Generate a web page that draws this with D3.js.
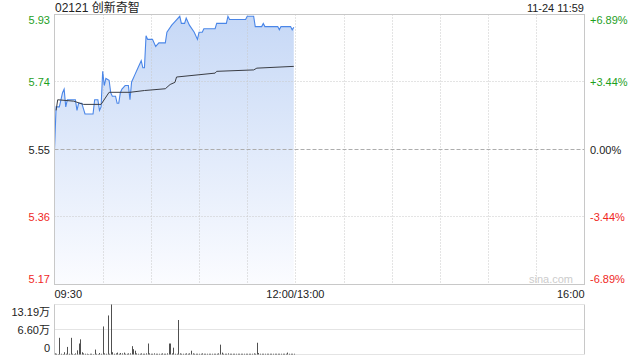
<!DOCTYPE html>
<html lang="zh">

<head>
    <meta charset="UTF-8">
    <title>02121 创新奇智</title>
    <script src="https://d3js.org/d3.v7.min.js"></script>
    <style>
        body {
            margin: 0;
            background: #fff;
            font-family: 'Liberation Sans', Arial, 'Noto Sans CJK SC', sans-serif;
        }

        svg text {
            font-size: 11px;
        }
    </style>
</head>

<body>
    <svg width="640" height="360"></svg>

    <script>
        // chart values
        const stockTitle = "02121 创新奇智";
        const stamp = "11-24 11:59";
        const prevClose = 5.55;

        const priceTicks = [5.93, 5.74, 5.55, 5.36, 5.17];
        const pctLabels = ["+6.89%", "+3.44%", "0.00%", "-3.44%", "-6.89%"];
        const timeLabels = ["09:30", "12:00/13:00", "16:00"];
        const volTicks = [13.19, 6.60, 0];
        const volLabels = ["13.19万", "6.60万", "0"];

        const priceTimes = ["09:30", "09:31", "09:33", "09:34", "09:35", "09:36", "09:37", "09:38", "09:43", "09:44",
            "09:45", "09:47", "09:48", "09:49", "09:54", "09:55", "09:57", "09:58", "09:59", "10:00",
            "10:01", "10:02", "10:04", "10:05", "10:06", "10:08", "10:09", "10:10", "10:11", "10:12",
            "10:14", "10:16", "10:17", "10:18", "10:19", "10:20", "10:22", "10:24", "10:25", "10:26",
            "10:27", "10:28", "10:31", "10:33", "10:35", "10:39", "10:40", "10:43", "10:45", "10:48",
            "10:49", "10:51", "10:52", "10:54", "10:57", "10:59", "11:00", "11:02", "11:03", "11:10",
            "11:11", "11:17", "11:18", "11:19", "11:29", "11:30", "11:34", "11:35", "11:39", "11:40",
            "11:41", "11:49", "11:50", "11:51", "11:57", "11:58", "11:59"];
        const prices = [5.55, 5.67, 5.67, 5.69, 5.71, 5.72, 5.67, 5.69, 5.69, 5.66,
            5.68, 5.68, 5.665, 5.65, 5.65, 5.69, 5.69, 5.66, 5.67, 5.77,
            5.73, 5.75, 5.745, 5.71, 5.70, 5.70, 5.68, 5.68, 5.71, 5.72,
            5.73, 5.73, 5.69, 5.74, 5.75, 5.76, 5.78, 5.80, 5.78, 5.78,
            5.87, 5.86, 5.86, 5.84, 5.85, 5.85, 5.88, 5.90, 5.91, 5.925,
            5.905, 5.905, 5.92, 5.90, 5.88, 5.86, 5.88, 5.88, 5.89, 5.89,
            5.905, 5.905, 5.925, 5.916, 5.916, 5.925, 5.925, 5.896, 5.896, 5.905,
            5.896, 5.896, 5.887, 5.896, 5.896, 5.887, 5.894];

        const avgTimes = ["09:31", "09:32", "09:42", "09:48", "09:59", "10:04", "10:17", "10:26", "10:39", "10:42",
            "10:45", "10:46", "11:10", "11:11", "11:34", "11:36", "11:59"];
        const avgPrices = [5.66, 5.69, 5.686, 5.677, 5.677, 5.711, 5.711, 5.716, 5.721, 5.733,
            5.739, 5.754, 5.765, 5.770, 5.774, 5.779, 5.784];

        // volume per minute from 09:30 (unit: 万)
        const volumes = [
            0.3, 0.2, 0.1, 4.4, 0.2, 0.1, 0.6, 0.2, 2.0, 0.2,
            4.4, 0.2, 0.1, 0.3, 1.1, 2.9, 4.0, 0.6, 0.3, 0.2,
            0.2, 0.1, 0.2, 0.2, 0.1, 1.3, 0.2, 0.1, 0.4, 0.2,
            7.4, 0.3, 0.2, 10.3, 0.2, 13.19, 0.6, 0.2, 0.3, 0.5,
            0.2, 0.4, 0.3, 0.5, 0.2, 0.2, 0.3, 0.3, 2.2, 1.4,
            1.0, 0.3, 0.2, 0.2, 0.3, 0.2, 0.2, 0.3, 2.9, 0.3,
            0.2, 0.2, 0.3, 0.2, 0.2, 0.2, 0.2, 0.3, 0.2, 0.2,
            0.3, 2.9, 2.9, 0.3, 1.8, 0.2, 0.2, 9.1, 0.3, 0.2,
            0.2, 0.2, 0.3, 0.2, 0.3, 1.0, 0.3, 0.2, 0.2, 0.2,
            0.2, 0.2, 0.3, 0.2, 0.2, 0.2, 0.2, 0.2, 0.2, 0.2,
            0.2, 0.2, 0.3, 2.6, 0.5, 0.2, 0.2, 0.2, 0.3, 0.2,
            0.2, 0.2, 0.2, 0.2, 0.2, 0.2, 0.2, 0.2, 0.2, 0.2,
            0.2, 0.2, 0.2, 0.2, 0.3, 0.2, 3.1, 0.4, 0.2, 0.2,
            0.2, 0.2, 0.2, 0.2, 0.2, 0.2, 0.2, 0.2, 0.2, 0.2,
            0.2, 0.2, 0.2, 0.2, 0.2, 0.5, 0.2, 0.2, 0.2, 0.2];

        const green = "#1ea01e", red = "#f0281e", grid = "#c8c8c8";

        // minutes of trading since 09:30, lunch break removed
        function tradeMin(t) {
            const [h, m] = t.split(":").map(Number);
            const mins = h * 60 + m;
            return mins <= 720 ? mins - 570 : mins - 780 + 150;
        }

        const plotL = 54.5, plotR = 584.5, plotT = 14.5, plotB = 284.5;
        const volT = 304.5, volB = 354.5;

        const x = d3.scaleLinear().domain([0, 330]).range([plotL, plotR]);
        const y = d3.scaleLinear().domain([5.17, 5.93]).range([plotB, plotT]);
        const yv = d3.scaleLinear().domain([0, 13.19]).range([volB, volT]);

        const svg = d3.select("svg");

        const defs = svg.append("defs");
        const grad = defs.append("linearGradient")
            .attr("id", "priceFill")
            .attr("gradientUnits", "userSpaceOnUse")
            .attr("x1", 0).attr("y1", plotT)
            .attr("x2", 0).attr("y2", plotB);
        grad.append("stop").attr("offset", 0).attr("stop-color", "#c6d8f6");
        grad.append("stop").attr("offset", 1).attr("stop-color", "#fbfcff");

        const pts = priceTimes.map((t, i) => ({ m: tradeMin(t), v: prices[i] }));
        const avgPts = avgTimes.map((t, i) => ({ m: tradeMin(t), v: avgPrices[i] }));

        svg.append("path")
            .datum(pts)
            .attr("fill", "url(#priceFill)")
            .attr("d", d3.area().x(d => x(d.m)).y0(y(5.17)).y1(d => y(d.v)));

        // vertical grid every half hour
        svg.append("g")
            .selectAll("line")
            .data(d3.range(30, 330, 30))
            .join("line")
            .attr("x1", d => Math.round(x(d)) + 0.5)
            .attr("x2", d => Math.round(x(d)) + 0.5)
            .attr("y1", plotT)
            .attr("y2", plotB)
            .attr("stroke", grid)
            .attr("stroke-dasharray", "1,2");

        // horizontal grid
        svg.append("g")
            .selectAll("line")
            .data(priceTicks.slice(1, -1))
            .join("line")
            .attr("x1", plotL)
            .attr("x2", plotR)
            .attr("y1", d => Math.round(y(d) - 0.5) + 0.5)
            .attr("y2", d => Math.round(y(d) - 0.5) + 0.5)
            .attr("stroke", d => d === prevClose ? "#adadad" : grid)
            .attr("stroke-dasharray", d => d === prevClose ? "4,2" : "1,2");

        svg.append("path")
            .datum(pts)
            .attr("fill", "none")
            .attr("stroke", "#4a86e8")
            .attr("stroke-width", 1.1)
            .attr("d", d3.line().x(d => x(d.m)).y(d => y(d.v)));

        svg.append("path")
            .datum(avgPts)
            .attr("fill", "none")
            .attr("stroke", "#3a3d44")
            .attr("stroke-width", 1)
            .attr("d", d3.line().x(d => x(d.m)).y(d => y(d.v)));

        // frame
        svg.append("rect")
            .attr("x", plotL).attr("y", plotT)
            .attr("width", plotR - plotL).attr("height", plotB - plotT)
            .attr("fill", "none")
            .attr("stroke", "#c8c8c8");

        // watermark
        svg.append("text")
            .attr("x", 573).attr("y", 283)
            .attr("text-anchor", "end")
            .attr("fill", "#cccccc")
            .text("sina.com");

        // price labels
        const colorOf = d => d > prevClose ? green : d < prevClose ? red : "#222";
        const labelY = d => d === 5.17 ? y(d) - 2 : d === 5.93 ? y(d) + 9.5 : y(d) + 4;

        svg.append("g")
            .selectAll("text")
            .data(priceTicks)
            .join("text")
            .attr("x", 50)
            .attr("y", labelY)
            .attr("text-anchor", "end")
            .attr("fill", colorOf)
            .text(d => d.toFixed(2));

        svg.append("g")
            .selectAll("text")
            .data(priceTicks)
            .join("text")
            .attr("x", 590)
            .attr("y", labelY)
            .attr("fill", colorOf)
            .text((d, i) => pctLabels[i]);

        // time labels
        svg.append("g")
            .selectAll("text")
            .data(timeLabels)
            .join("text")
            .attr("x", (d, i) => i === 0 ? plotL : i === 1 ? x(150) : plotR)
            .attr("y", 298)
            .attr("text-anchor", (d, i) => i === 0 ? "start" : i === 1 ? "middle" : "end")
            .attr("fill", "#222")
            .text(d => d);

        svg.append("text")
            .attr("x", 55).attr("y", 12)
            .attr("fill", "#222")
            .style("font-size", "12px")
            .text(stockTitle);

        svg.append("text")
            .attr("x", 584).attr("y", 12)
            .attr("text-anchor", "end")
            .attr("fill", "#222")
            .text(stamp);

        // volume panel
        svg.append("g")
            .selectAll("line")
            .data(volTicks)
            .join("line")
            .attr("x1", plotL)
            .attr("x2", plotR)
            .attr("y1", d => Math.round(yv(d) - 0.5) + 0.5)
            .attr("y2", d => Math.round(yv(d) - 0.5) + 0.5)
            .attr("stroke", grid)
            .attr("stroke-dasharray", "1,1");

        svg.append("line")
            .attr("x1", plotL).attr("x2", plotL)
            .attr("y1", volT).attr("y2", volB)
            .attr("stroke", "#c8c8c8");
        svg.append("line")
            .attr("x1", plotR).attr("x2", plotR)
            .attr("y1", volT).attr("y2", volB)
            .attr("stroke", "#c8c8c8");

        svg.append("g")
            .selectAll("rect")
            .data(volumes)
            .join("rect")
            .attr("x", (d, i) => Math.round(x(i)))
            .attr("width", 1)
            .attr("y", d => yv(d))
            .attr("height", d => volB - yv(d))
            .attr("fill", "#505050");

        svg.append("g")
            .selectAll("text")
            .data(volTicks)
            .join("text")
            .attr("x", 50)
            .attr("y", (d, i) => i === 0 ? 316 : i === 1 ? 334 : 352)
            .attr("text-anchor", "end")
            .attr("fill", "#222")
            .text((d, i) => volLabels[i]);
    </script>
</body>

</html>
